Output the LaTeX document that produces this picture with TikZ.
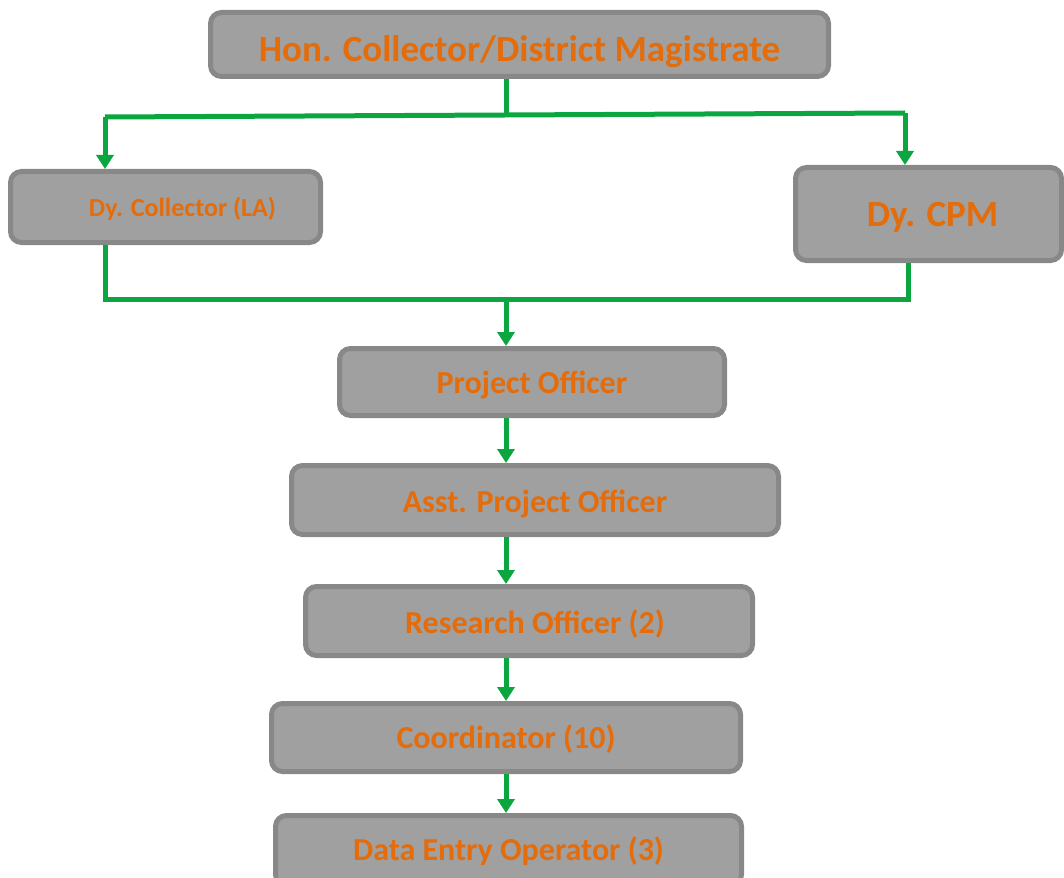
\documentclass[tikz,border=0pt]{standalone}
\usepackage{fontspec}
\setmainfont{Carlito}
\usetikzlibrary{arrows.meta}
\definecolor{boxfill}{HTML}{A0A0A0}
\definecolor{boxline}{HTML}{888888}
\definecolor{txt}{HTML}{E46C0A}
\definecolor{conn}{HTML}{0BA640}
\tikzset{
  orgbox/.style={draw=boxline, fill=boxfill, line width=5pt, rounded corners=11pt,
    text=txt, font=\bfseries, inner sep=0pt, text height=0pt, text depth=0pt},
  link/.style={draw=conn, line width=5pt},
  arr/.style={link, -{Triangle[width=17pt,length=14pt]}}
}
\newcommand{\fs}[1]{\bfseries\fontsize{#1}{#1}\selectfont}
\begin{document}
\begin{tikzpicture}[x=1pt,y=-1pt]
\useasboundingbox (0,0) rectangle (1064,877);
\clip (0,0) rectangle (1064,877);
\node[orgbox, minimum width=618pt, minimum height=64pt, font=\fs{37}] (top) at (519.5,44.5) {\raisebox{-17.5pt}{Hon. Collector/District Magistrate}};
\node[orgbox, minimum width=310pt, minimum height=71pt, font=\fs{26}] (dyc) at (165.5,207) {\hspace*{34pt}\raisebox{-10pt}{Dy. Collector (LA)}};
\node[orgbox, minimum width=266pt, minimum height=93pt, font=\fs{37}] (cpm) at (928.5,214) {\hspace*{8pt}\raisebox{-13pt}{Dy. CPM}};
\node[orgbox, minimum width=385pt, minimum height=67pt, font=\fs{32}] (po) at (532,382) {\raisebox{-11pt}{Project Officer}};
\node[orgbox, minimum width=487pt, minimum height=69pt, font=\fs{32}] (apo) at (535,500) {\raisebox{-12pt}{Asst. Project Officer}};
\node[orgbox, minimum width=447pt, minimum height=69pt, font=\fs{32}] (ro) at (529,621) {\hspace*{12pt}\raisebox{-12pt}{Research Officer (2)}};
\node[orgbox, minimum width=469pt, minimum height=68pt, font=\fs{32}] (co) at (506,737.5) {\raisebox{-10.5pt}{Coordinator (10)}};
\node[orgbox, minimum width=466pt, minimum height=70pt, font=\fs{32}] (deo) at (508.5,850.5) {\raisebox{-9.5pt}{Data Entry Operator (3)}};
% upper split
\coordinate (s1) at (506,115);
\coordinate (sl) at (105,117);
\coordinate (sr) at (905,113);
\draw[link] (top.south -| s1) -- (s1);
\draw[link] (sl) -- (sr);
\draw[arr] (sl) -- (sl |- dyc.north);
\draw[arr] (sr) -- (sr |- cpm.north);
% lower merge
\coordinate (ml) at (105,299);
\coordinate (mr) at (908,299);
\coordinate (mm) at (506,299);
\draw[link] (ml |- dyc.south) -- (ml) -- (mr) -- (mr |- cpm.south);
\draw[arr] (mm) -- (mm |- po.north);
% chain
\draw[arr] (po.south -| mm) -- (mm |- apo.north);
\draw[arr] (apo.south -| mm) -- (mm |- ro.north);
\draw[arr] (ro.south -| mm) -- (mm |- co.north);
\draw[arr] (co.south -| mm) -- (mm |- deo.north);
\end{tikzpicture}
\end{document}
